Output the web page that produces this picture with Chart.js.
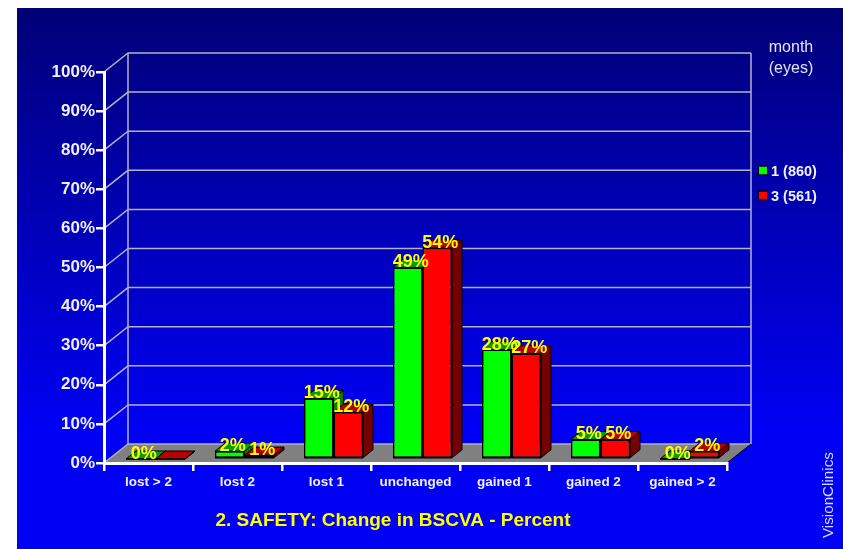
<!DOCTYPE html>
<html>
<head>
<meta charset="utf-8">
<style>
  html, body { margin: 0; padding: 0; background: #fff; overflow: hidden; }
  canvas { display: block; }
</style>
<script src="https://cdn.jsdelivr.net/npm/chart.js@4/dist/chart.umd.min.js"></script>
</head>
<body>
<canvas id="myChart" width="843" height="549"></canvas>
<script>
const categories = ['lost > 2', 'lost 2', 'lost 1', 'unchanged', 'gained 1', 'gained 2', 'gained > 2'];
const month1Values = [0, 2, 15.5, 49, 28, 5, 0];
const month3Values = [0, 1, 12, 54, 27, 5, 2];
const month1Labels = ['0%', '2%', '15%', '49%', '28%', '5%', '0%'];
const month3Labels = ['', '1%', '12%', '54%', '27%', '5%', '2%'];
const seriesNames = ['1 (860)', '3 (561)'];
const chartTitle = '2. SAFETY: Change in BSCVA - Percent';

const fontName = '"Liberation Sans", Arial, sans-serif';
const wallDepth = {x: 24, y: 19};
const barShift = {x: 7, y: 4};
const barDepth = {x: 10, y: 8};
const wallColor = '#b2b2c6';

function text(ctx, str, x, y, font, color, align = 'left') {
    ctx.font = font;
    ctx.fillStyle = color;
    ctx.textAlign = align;
    ctx.textBaseline = 'alphabetic';
    ctx.fillText(str, x, y);
}

function poly(ctx, points, fill, stroke = '#000') {
    ctx.beginPath();
    points.forEach(([x, y], i) => i ? ctx.lineTo(x, y) : ctx.moveTo(x, y));
    ctx.closePath();
    ctx.fillStyle = fill;
    ctx.fill();
    if (stroke) {
        ctx.strokeStyle = stroke;
        ctx.lineWidth = 1;
        ctx.stroke();
    }
}

// Page background, back wall and floor
const backdrop = {
    id: 'backdrop',
    beforeDraw(chart) {
        const {ctx, chartArea: {left, right, bottom}, scales: {y}} = chart;
        ctx.save();
        const bg = ctx.createLinearGradient(0, 8, 0, 430);
        bg.addColorStop(0, '#000078');
        bg.addColorStop(1, '#0000f4');
        ctx.fillStyle = bg;
        ctx.fillRect(17, 8, 826, 541);

        poly(ctx, [[left, bottom], [right, bottom], [right + wallDepth.x, bottom - wallDepth.y], [left + wallDepth.x, bottom - wallDepth.y]], '#808080', null);

        ctx.strokeStyle = wallColor;
        ctx.lineWidth = 1.5;
        y.ticks.forEach(tick => {
            const py = y.getPixelForValue(tick.value);
            ctx.beginPath();
            ctx.moveTo(left, py);
            ctx.lineTo(left + wallDepth.x, py - wallDepth.y);
            ctx.lineTo(right + wallDepth.x, py - wallDepth.y);
            ctx.stroke();
        });
        const top = y.getPixelForValue(100) - wallDepth.y;
        ctx.beginPath();
        ctx.moveTo(left + wallDepth.x, top);
        ctx.lineTo(left + wallDepth.x, bottom - wallDepth.y);
        ctx.moveTo(right + wallDepth.x, top);
        ctx.lineTo(right + wallDepth.x, bottom - wallDepth.y);
        ctx.stroke();

        ctx.strokeStyle = '#000';
        ctx.lineWidth = 1;
        ctx.beginPath();
        ctx.moveTo(right, bottom);
        ctx.lineTo(right + wallDepth.x, bottom - wallDepth.y);
        ctx.stroke();
        ctx.restore();
    }
};

// Extrudes the bars: top and side faces first, then the flat fronts shifted into the floor
const bars3d = {
    id: 'bars3d',
    beforeDatasetsDraw(chart) {
        const {ctx} = chart;
        ctx.save();
        ctx.translate(barShift.x, -barShift.y);
        chart.data.datasets.forEach((ds, index) => {
            chart.getDatasetMeta(index).data.forEach(bar => {
                const x0 = bar.x - bar.width / 2;
                const x1 = bar.x + bar.width / 2;
                const dx = barDepth.x, dy = barDepth.y;
                poly(ctx, [[x0, bar.y], [x1, bar.y], [x1 + dx, bar.y - dy], [x0 + dx, bar.y - dy]], ds.topColor);
                poly(ctx, [[x1, bar.y], [x1, bar.base], [x1 + dx, bar.base - dy], [x1 + dx, bar.y - dy]], ds.sideColor);
                ctx.beginPath();
                ctx.moveTo(x0, bar.base);
                ctx.lineTo(x1, bar.base);
                ctx.strokeStyle = '#000';
                ctx.lineWidth = 1.5;
                ctx.stroke();
            });
        });
        ctx.restore();
    },
    beforeDatasetDraw(chart) {
        chart.ctx.save();
        chart.ctx.translate(barShift.x, -barShift.y);
    },
    afterDatasetDraw(chart) {
        chart.ctx.restore();
    },
    afterDatasetsDraw(chart) {
        const {ctx} = chart;
        ctx.save();
        chart.data.datasets.forEach((ds, index) => {
            chart.getDatasetMeta(index).data.forEach((bar, i) => {
                text(ctx, ds.valueLabels[i], bar.x + barShift.x + 3, bar.y - barShift.y, 'bold 18px ' + fontName, '#ffff00', 'center');
            });
        });
        ctx.restore();
    }
};

// Title, legend and side notes sit outside the plot
const notes = {
    id: 'notes',
    afterDraw(chart) {
        const {ctx} = chart;
        ctx.save();
        text(ctx, chartTitle, 393, 526, 'bold 19px ' + fontName, '#ffff00', 'center');
        text(ctx, 'month', 791, 52, '16px ' + fontName, '#e4e4f4', 'center');
        text(ctx, '(eyes)', 791, 73, '16px ' + fontName, '#e4e4f4', 'center');

        chart.data.datasets.forEach((ds, i) => {
            const cy = 171 + i * 25;
            ctx.fillStyle = ds.backgroundColor;
            ctx.strokeStyle = '#000';
            ctx.lineWidth = 1;
            ctx.fillRect(759, cy - 4.5, 8, 8);
            ctx.strokeRect(758.5, cy - 5, 9, 9);
            text(ctx, seriesNames[i], 771, cy + 5, 'bold 14.5px ' + fontName, '#f0f0ff');
        });

        ctx.translate(833, 538);
        ctx.rotate(-Math.PI / 2);
        text(ctx, 'VisionClinics', 0, 0, '15.2px ' + fontName, '#d8d8ff');
        ctx.restore();
    }
};

new Chart(document.getElementById('myChart'), {
    type: 'bar',
    data: {
        labels: categories,
        datasets: [
            {
                label: seriesNames[0],
                data: month1Values,
                valueLabels: month1Labels,
                backgroundColor: '#00ff00',
                topColor: '#00a000',
                sideColor: '#008000',
                borderColor: '#000',
                borderWidth: 1.5
            },
            {
                label: seriesNames[1],
                data: month3Values,
                valueLabels: month3Labels,
                backgroundColor: '#ff0000',
                topColor: '#b80000',
                sideColor: '#740000',
                borderColor: '#000',
                borderWidth: 1.5
            }
        ]
    },
    options: {
        responsive: false,
        animation: false,
        devicePixelRatio: 1,
        layout: {padding: {left: 0, top: 72, right: 116, bottom: 0}},
        datasets: {bar: {barPercentage: 1, categoryPercentage: 0.663, borderSkipped: false}},
        scales: {
            x: {
                afterFit(scale) { scale.height = 86; },
                border: {color: '#fff', width: 3},
                grid: {drawOnChartArea: false, color: '#fff', lineWidth: 2.5, tickLength: 8},
                ticks: {color: '#f0f0ff', padding: 3, maxRotation: 0, font: {family: fontName, weight: 'bold', size: 13.5}}
            },
            y: {
                min: 0,
                max: 100,
                afterFit(scale) { scale.width = 104; },
                border: {color: '#fff', width: 3},
                grid: {drawOnChartArea: false, color: '#fff', lineWidth: 2.5, tickLength: 8},
                ticks: {
                    stepSize: 10,
                    color: '#f0f0ff',
                    padding: 1,
                    font: {family: fontName, weight: 'bold', size: 17},
                    callback: value => value + '%'
                }
            }
        },
        plugins: {legend: {display: false}, title: {display: false}, tooltip: {enabled: false}}
    },
    plugins: [backdrop, bars3d, notes]
});
</script>
</body>
</html>
